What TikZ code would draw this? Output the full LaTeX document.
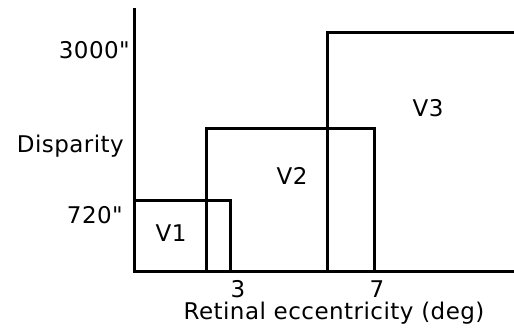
\documentclass[tikz,border=0pt]{standalone}
\usepackage{fontspec}
\setmainfont{DejaVu Sans}[LetterSpace=2, Ligatures=TeXOff]
\usepackage{tikz}
\usetikzlibrary{positioning}

\newcommand{\arcsecmark}{\symbol{34}}

\begin{document}
\begin{tikzpicture}[
  x=1pt, y=-1pt,
  font=\fontsize{23}{26}\selectfont,
  axis/.style={line width=3pt, line cap=rect},
  area/.style={line width=3pt, line join=miter},
  lab/.style={inner sep=0pt},
  every node/.style={align=center}
]
\useasboundingbox (0,0) rectangle (514,328);

% ---- axes ----
\coordinate (origin) at (134,272);
\coordinate (ytop)   at (134,10);
\coordinate (xend)   at (514,272);
\draw[axis] (ytop) -- (origin) -- (xend);

% ---- visual areas ----
\draw[area] (origin) |- (230,201) -- (230,272);
\draw[area] (206,272) |- (374,129) -- (374,272);
\draw[area] (327,272) |- (516,33);

\node[lab] (v1) at (171,233.5) {V1};
\node[lab] (v2) at (292,175.5) {V2};
\node[lab] (v3) at (428,108.5) {V3};

% ---- tick labels ----
\node[lab, anchor=base east] (hi)   at (130,59)  {3000\arcsecmark};
\node[lab, anchor=base east] (disp) at (124,153) {Disparity};
\node[lab, anchor=base east] (lo)   at (123,224) {720\arcsecmark};
\node[lab, anchor=base] (three) at (238,298) {3};
\node[lab, anchor=base] (seven) at (377,298) {7};
\node[lab, anchor=base] (xlab)  at (334,320) {Retinal eccentricity (deg)};

\end{tikzpicture}
\end{document}
